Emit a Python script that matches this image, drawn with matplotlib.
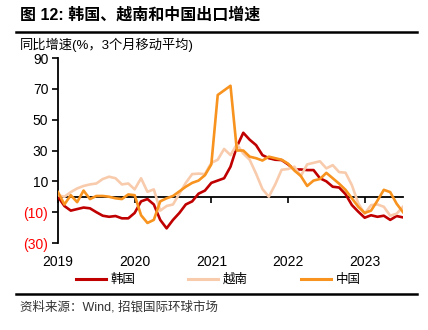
import matplotlib
matplotlib.use("Agg")
import matplotlib.pyplot as plt
from matplotlib.lines import Line2D
import numpy as np

plt.rcParams['font.family'] = ['Liberation Sans', 'Noto Sans CJK SC', 'DejaVu Sans']

# Monthly, Jan 2019 .. Jul 2023 (3-month moving average, YoY %)
korea = [0, -6, -9, -8, -7, -7.5, -10, -12.3, -13, -12.5, -14, -14,
         -10.5, -3, -1.5, -5, -15, -20.5, -15, -10.5, -5, -3, 2, 4,
         9, 10.5, 12, 19.5, 32.5, 41.5, 37, 33.5, 27, 25, 24, 23.8,
         21, 17.7, 17.7, 17.3, 17.3, 12, 10, 6.5, 6, 1.7, -5.4, -9.7,
         -13.6, -12, -13, -12.3, -15, -12.5, -13.4]
vietnam = [1, 0, 3, 5.4, 7, 8, 8.6, 11.5, 13, 12, 8, 8.6,
           4.8, 12, 3.2, 4.8, -9, -6, -5, 2, 9, 14.7, 15, 14.7,
           22, 24, 31, 27, 34, 28, 24, 15, 5, 0, 8, 17.5,
           18, 19.5, 13.4, 21, 22, 23, 18.4, 20.5, 16, 15.6, 7.5, -4.3,
           -11, -5.4, -5, -6.5, -12.3, -11, -6.5]
china = [3, -5, 1, -3.5, 4, -1.5, 0.5, 0.5, 0, -1, -1.5, 1.5,
         1, -12, -17, -15, -3, -1, 0.5, 3.5, 6.5, 9, 10.5, 14,
         21, 66, 69, 72, 30, 30, 26, 25, 23.5, 26, 25, 24,
         21.5, 17, 13.5, 7, 10.5, 11.5, 15.5, 12, 8.5, 4.5, -1, -6.5,
         -10.5, -9, -2.5, 4.5, 3, -4.5, -10]
series_names = ['韩国', '越南', '中国']
series_colors = ['#C00000', '#F8CBAD', '#F7931E']
year_labels = ['2019', '2020', '2021', '2022', '2023']
year_ticks = [0, 12, 24, 36, 48]
y_ticks = [90, 70, 50, 30, 10, -10, -30]
y_ticklabels = ['90', '70', '50', '30', '10', '(10)', '(30)']

fig = plt.figure(figsize=(4.28, 3.30), dpi=100)
ax = fig.add_axes([58/428, 1-243/330, (403-58)/428, (243-58)/330])

months = np.arange(len(korea))
for data, col in zip([korea, vietnam, china], series_colors):
    ax.plot(months, data, color=col, lw=1.9, solid_joinstyle='round', zorder=3)

ax.set_xlim(0, 54)
ax.set_ylim(-30, 90)

ax.spines['top'].set_visible(False)
ax.spines['right'].set_visible(False)
ax.spines['bottom'].set_position(('data', 0))
ax.spines['bottom'].set_linewidth(1.3)
ax.spines['bottom'].set_zorder(2)
ax.spines['left'].set_linewidth(1.3)

ax.set_xticks(year_ticks)
ax.tick_params(axis='x', direction='out', length=4, width=1.2, labelbottom=False)
ax.set_yticks(y_ticks)
ax.set_yticklabels(y_ticklabels)
ax.tick_params(axis='y', direction='out', length=4, width=1.2, labelsize=10, pad=3)
for lbl, v in zip(ax.get_yticklabels(), y_ticks):
    lbl.set_color('#FF0000' if v < 0 else 'black')

for t, l in zip(year_ticks, year_labels):
    ax.text(t, -19/185, l, transform=ax.get_xaxis_transform(), ha='center', va='center', fontsize=10)

# Title and rules
fig.text(20/428, 1-15/330, '图 12: 韩国、越南和中国出口增速', fontsize=11.5, fontweight='bold', va='center', ha='left')
fig.add_artist(Line2D([16/428, 417/428], [1-32/330, 1-32/330], color='black', lw=1.8))
fig.text(20/428, 1-45/330, '同比增速(%，3个月移动平均)', fontsize=9.5, va='center', ha='left')

handles = [Line2D([0], [0], color=c, lw=2.2) for c in series_colors]
fig.legend(handles, series_names, loc='center', bbox_to_anchor=(218/428, 1-280/330), ncol=3,
           frameon=False, fontsize=9, handlelength=2.4, handletextpad=0.4, columnspacing=4.2,
           borderpad=0, borderaxespad=0)

fig.add_artist(Line2D([16/428, 417/428], [1-294/330, 1-294/330], color='black', lw=1.8))
fig.text(20/428, 1-307/330, '资料来源：Wind, 招银国际环球市场', fontsize=9, color='#333333', va='center', ha='left')

fig.savefig('out.png', dpi=100)
